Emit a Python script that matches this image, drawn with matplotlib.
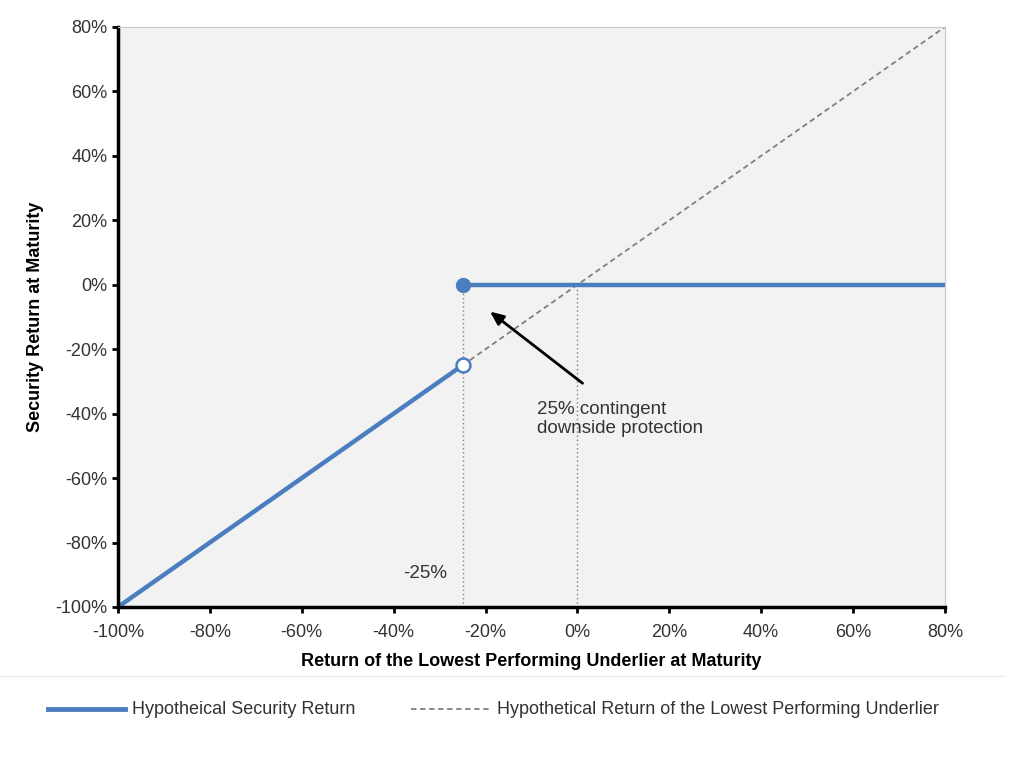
import matplotlib.pyplot as plt
from matplotlib.lines import Line2D

familia = ["Liberation Sans", "DejaVu Sans"]
plt.rcParams["font.family"] = familia

# datos del grafico (en %)
x_ticks = [-100, -80, -60, -40, -20, 0, 20, 40, 60, 80]
y_ticks = [-100, -80, -60, -40, -20, 0, 20, 40, 60, 80]
barrera = -25
tramo_bajo_x = [-100, -25]
tramo_bajo_y = [-100, -25]
tramo_alto_x = [-25, 80]
tramo_alto_y = [0, 0]
subyacente_x = [-25, 80]
subyacente_y = [-25, 80]

azul = "#4a7ebf"
gris = "#808080"

fig = plt.figure(figsize=(10.25, 7.69), dpi=100)
ax = fig.add_axes([0.1151, 0.2107, 0.8068, 0.7542])
ax.set_facecolor("#f2f2f2")

# lineas punteadas verticales de referencia
ax.plot([barrera, barrera], [0, -100], ls=(0, (1, 2)), color=gris, lw=1)
ax.plot([0, 0], [0, -100], ls=(0, (1, 2)), color=gris, lw=1)

# rendimiento del subyacente
ax.plot(subyacente_x, subyacente_y, ls=(0, (3, 2)), color=gris, lw=1.3)

# rendimiento del valor
ax.plot(tramo_bajo_x, tramo_bajo_y, color=azul, lw=3.2, solid_capstyle="butt")
ax.plot(tramo_alto_x, tramo_alto_y, color=azul, lw=3.2, solid_capstyle="butt")
ax.plot([barrera], [0], "o", color=azul, markersize=10)
ax.plot([barrera], [barrera], "o", mfc="white", mec=azul, mew=1.8, markersize=10)

ax.annotate("", xy=(-19.5, -7.8), xytext=(1.6, -31.1),
            arrowprops=dict(arrowstyle="-|>,head_length=0.8,head_width=0.35",
                            color="black", lw=2))
ax.text(-8.8, -36.2, "25% contingent\ndownside protection", fontsize=13.5,
        color="#333333", va="top", linespacing=1.1)
ax.text(-28.4, -89.5, "-25%", fontsize=13.5, color="#333333", ha="right", va="center")

ax.set_xlim(-100, 80)
ax.set_ylim(-100, 80)
ax.set_xticks(x_ticks)
ax.set_yticks(y_ticks)
ax.set_xticklabels([f"{v}%" for v in x_ticks])
ax.set_yticklabels([f"{v}%" for v in y_ticks])
ax.tick_params(labelsize=13, labelcolor="#333333", length=4, width=2, direction="out")
ax.tick_params(axis="x", pad=8)

for lado in ("left", "bottom"):
    ax.spines[lado].set_linewidth(2.5)
    ax.spines[lado].set_color("black")
for lado in ("top", "right"):
    ax.spines[lado].set_linewidth(0.8)
    ax.spines[lado].set_color("#c8c8c8")

ax.set_xlabel("Return of the Lowest Performing Underlier at Maturity",
              fontsize=13, fontweight="bold", labelpad=9)
ax.set_ylabel("Security Return at Maturity", fontsize=13, fontweight="bold",
              labelpad=8)

# separador y leyenda bajo el grafico
fig.add_artist(Line2D([0, 0.98], [1 - 676 / 769] * 2, color="#eeeeee", lw=1))
fig.add_artist(Line2D([48 / 1025, 125 / 1025], [1 - 709 / 769] * 2,
                      color=azul, lw=3.5))
fig.text(132 / 1025, 1 - 709 / 769, "Hypotheical Security Return", fontsize=13,
         color="#333333", va="center")
fig.add_artist(Line2D([411 / 1025, 490 / 1025], [1 - 709 / 769] * 2,
                      color=gris, lw=1.3, ls=(0, (3, 2))))
fig.text(497 / 1025, 1 - 709 / 769,
         "Hypothetical Return of the Lowest Performing Underlier", fontsize=13,
         color="#333333", va="center")

fig.savefig("out.png", dpi=100)
